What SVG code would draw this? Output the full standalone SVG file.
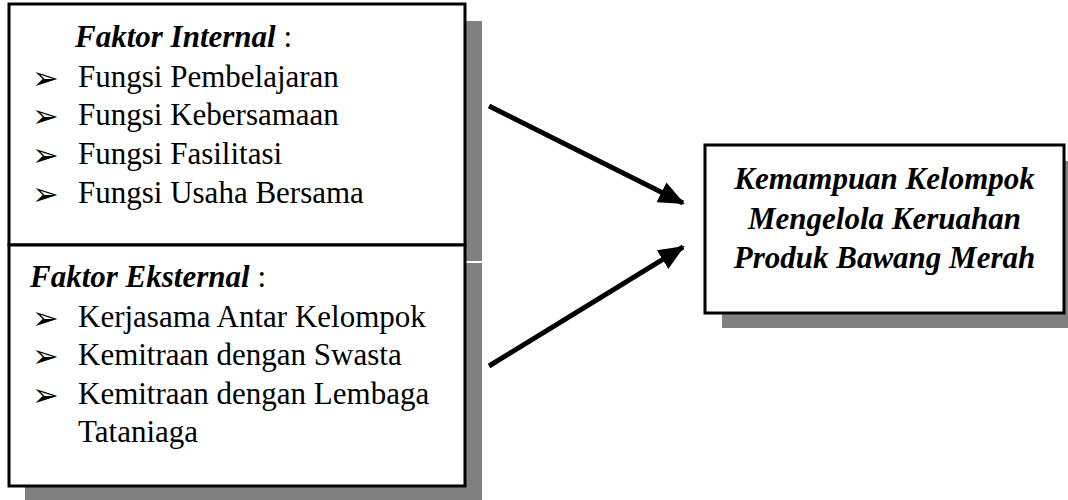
<svg xmlns="http://www.w3.org/2000/svg" width="1068" height="500" viewBox="0 0 1068 500">
<style>
.box{fill:#fff;stroke:#000;stroke-width:3}
.sh{fill:#808080}
.t{font-family:"Liberation Serif","Times New Roman",serif;font-size:31px;fill:#000}
.bi{font-weight:bold;font-style:italic}
.bul{font-family:"DejaVu Sans",sans-serif;font-size:32px;fill:#000}
.conn{stroke:#000;stroke-width:5;fill:none;marker-end:url(#ah)}
</style>
<defs>
<marker id="ah" markerUnits="userSpaceOnUse" markerWidth="26" markerHeight="22" viewBox="0 0 26 22" refX="24" refY="11" orient="auto">
<path d="M0,0 L26,11 L0,22 Z" fill="#000"/>
</marker>
</defs>
<rect width="1068" height="500" fill="#fff"/>
<g id="internal">
<rect class="sh" x="25" y="21" width="457" height="240"/>
<rect class="box" x="9" y="4" width="456" height="241"/>
<text class="t" x="75" y="47"><tspan class="bi">Faktor Internal</tspan> :</text>
<text class="bul" x="32" y="89">➢</text>
<text class="t" x="78" y="87">Fungsi Pembelajaran</text>
<text class="bul" x="32" y="127">➢</text>
<text class="t" x="78" y="125">Fungsi Kebersamaan</text>
<text class="bul" x="32" y="166">➢</text>
<text class="t" x="78" y="164">Fungsi Fasilitasi</text>
<text class="bul" x="32" y="205">➢</text>
<text class="t" x="78" y="203">Fungsi Usaha Bersama</text>
</g>
<g id="external">
<rect class="sh" x="25" y="263" width="457" height="240"/>
<rect class="box" x="9" y="245" width="456" height="241"/>
<text class="t" x="30" y="287"><tspan class="bi">Faktor Eksternal</tspan> :</text>
<text class="bul" x="32" y="329">➢</text>
<text class="t" x="78" y="327">Kerjasama Antar Kelompok</text>
<text class="bul" x="32" y="367">➢</text>
<text class="t" x="78" y="365">Kemitraan dengan Swasta</text>
<text class="bul" x="32" y="406">➢</text>
<text class="t" x="78" y="404">Kemitraan dengan Lembaga</text>
<text class="t" x="78" y="442">Tataniaga</text>
</g>
<g id="result">
<rect class="sh" x="722" y="161" width="360" height="167"/>
<rect class="box" x="705" y="145" width="359" height="168"/>
<text class="t bi" text-anchor="middle" x="884.5" y="189">Kemampuan Kelompok</text>
<text class="t bi" text-anchor="middle" x="884.5" y="229">Mengelola Keruahan</text>
<text class="t bi" text-anchor="middle" x="884.5" y="268">Produk Bawang Merah</text>
</g>
<g id="connectors">
<line class="conn" x1="489" y1="106" x2="683" y2="203"/>
<line class="conn" x1="489" y1="366" x2="683" y2="247"/>
</g>
</svg>
